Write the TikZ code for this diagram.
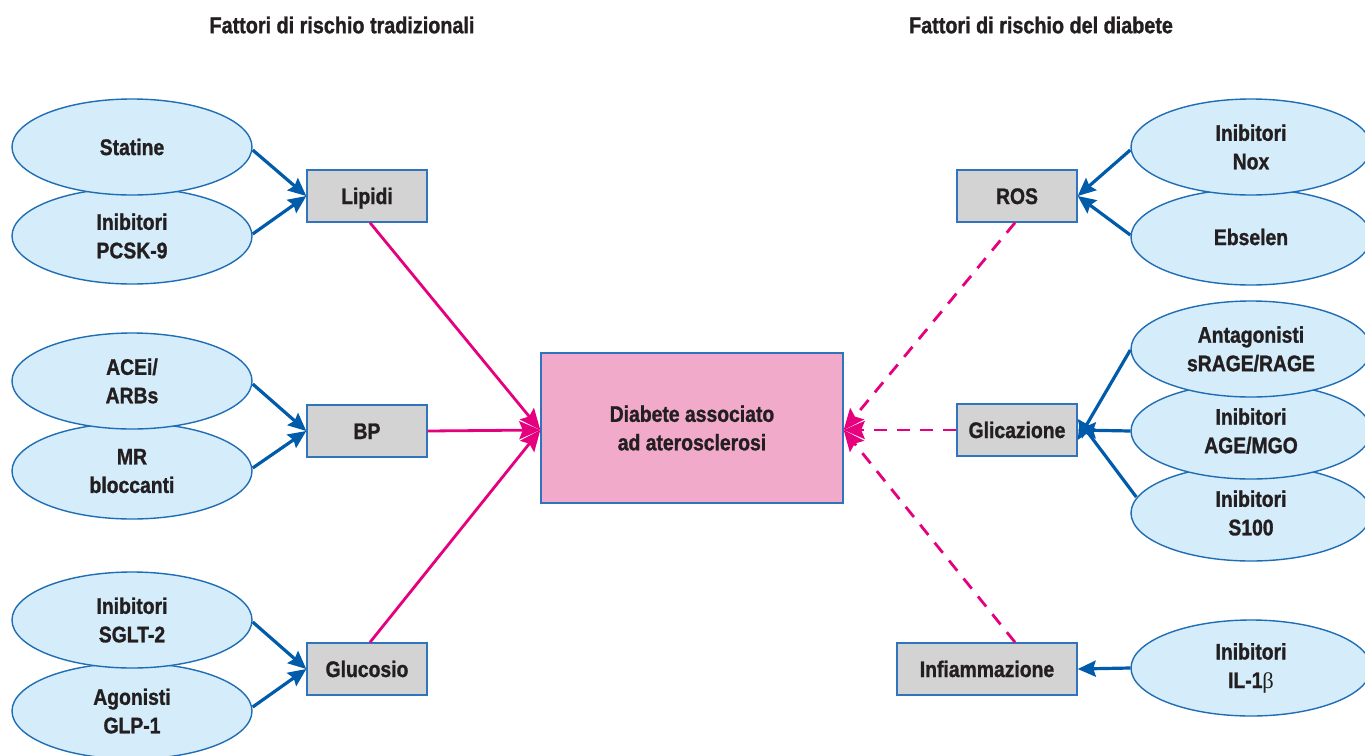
\documentclass[tikz,border=0pt]{standalone}
\usepackage{fontspec}
\setmainfont[FakeStretch=0.86, BoldFeatures={FakeBold=1.2}]{Liberation Sans}
\newfontfamily\greekserif{Liberation Serif}
\usetikzlibrary{arrows.meta,shapes.geometric}
\definecolor{ellfill}{HTML}{D5EDFA}
\definecolor{ellline}{HTML}{1F6DB5}
\definecolor{arrblue}{HTML}{005BAA}
\definecolor{boxgray}{HTML}{D3D3D3}
\definecolor{boxline}{HTML}{2F74BC}
\definecolor{centerfill}{HTML}{F2AACB}
\definecolor{pinkline}{HTML}{E6007E}
\definecolor{txt}{HTML}{231F20}
\newcommand\nodefont{\fontsize{22.5}{28.5}\selectfont\bfseries}
\newcommand\titlefont{\fontsize{23}{27}\selectfont\bfseries}
\begin{document}
\begin{tikzpicture}[x=1pt,y=-1pt,
  ell/.style={ellipse, draw=ellline, fill=ellfill, line width=1.4pt,
    minimum width=240pt, minimum height=96pt, inner sep=0pt, align=center,
    font=\nodefont, text=txt},
  fbox/.style={rectangle, draw=boxline, fill=boxgray, line width=1.4pt,
    minimum width=120pt, minimum height=52pt, inner sep=0pt,
    text height=16pt, text depth=0pt,
    font=\nodefont, text=txt},
  cbox/.style={rectangle, draw=boxline, fill=centerfill, line width=1.4pt,
    minimum width=302pt, minimum height=150pt, inner sep=0pt, align=center,
    font=\nodefont, text=txt},
  title/.style={font=\titlefont, text=txt},
  barrow/.style={draw=arrblue, line width=3.2pt,
    -{Stealth[length=18pt,width=16pt,inset=2.5pt]}},
  parrow/.style={draw=pinkline, line width=2.8pt,
    -{Stealth[length=21pt,width=18pt,inset=3.5pt]}},
  pdash/.style={parrow, dash pattern=on 13pt off 10pt},
]
\useasboundingbox (0,0) rectangle (1365,755);
\fill[white] (0,0) rectangle (1365,755);

% titles
\node[title] (t1) at (342,25) {Fattori di rischio tradizionali};
\node[title] (t2) at (1041,25) {Fattori di rischio del diabete};

% left ellipses (lower first so the upper one overlaps)
\node[ell] (pcsk) at (132,236) {Inibitori\\PCSK-9};
\node[ell] (stat) at (132,147) {Statine};
\node[ell] (mr) at (132,471) {MR\\bloccanti};
\node[ell] (acei) at (132,381) {ACEi/\\ARBs};
\node[ell] (glp) at (132,711) {Agonisti\\GLP-1};
\node[ell] (sglt) at (132,620) {Inibitori\\SGLT-2};

% right ellipses
\node[ell] (ebs) at (1251,237) {Ebselen};
\node[ell] (nox) at (1251,147) {Inibitori\\Nox};
\node[ell] (s100) at (1251,513) {Inibitori\\S100};
\node[ell] (age) at (1251,431) {Inibitori\\AGE/MGO};
\node[ell] (rage) at (1251,349) {Antagonisti\\sRAGE/RAGE};
\node[ell] (il) at (1251,668) {Inibitori\\IL-1{\greekserif\mdseries β}};

% factor boxes
\node[fbox] (lip) at (367,196) {Lipidi};
\node[fbox] (bp) at (367,431) {BP};
\node[fbox] (glu) at (367,669) {Glucosio};
\node[fbox] (ros) at (1017,196) {ROS};
\node[fbox] (gli) at (1017,430) {Glicazione};
\node[fbox, minimum width=180pt] (inf) at (987,669) {Infiammazione};

% center
\node[cbox] (dia) at (692,428) {Diabete associato\\ad aterosclerosi};

% blue arrows, left
\draw[barrow] (stat.east |- 0,150) -- (lip.west);
\draw[barrow] (pcsk.east |- 0,234) -- (lip.west);
\draw[barrow] (acei.east |- 0,384) -- (bp.west);
\draw[barrow] (mr.east |- 0,468) -- (bp.west);
\draw[barrow] (sglt.east |- 0,622) -- (glu.west);
\draw[barrow] (glp.east |- 0,707) -- (glu.west);

% blue arrows, right
\draw[barrow] (nox.west |- 0,150) -- (ros.east);
\draw[barrow] (ebs.west |- 0,235) -- (ros.east);
\draw[barrow] (rage.west |- 0,350) -- ([yshift=-10pt]gli.east);
\draw[barrow] (age.west) -- (gli.east);
\draw[barrow] ([xshift=6pt]s100.west |- 0,497) -- ([yshift=11pt]gli.east);
\draw[barrow] (il.west) -- (inf.east);

% pink arrows to center
\coordinate (cw) at (dia.west |- 0,430);
\coordinate (ce) at (dia.east |- 0,430);
\draw[parrow] ([xshift=3pt]lip.south) -- (cw);
\draw[parrow] (bp.east |- 0,431) -- (cw);
\draw[parrow] ([xshift=3pt]glu.north) -- (cw);
\draw[pdash] ([xshift=-2pt]ros.south) -- (ce);
\draw[pdash] (gli.west) -- (ce);
\draw[pdash] ([xshift=28pt]inf.north) -- (ce);
\end{tikzpicture}
\end{document}
